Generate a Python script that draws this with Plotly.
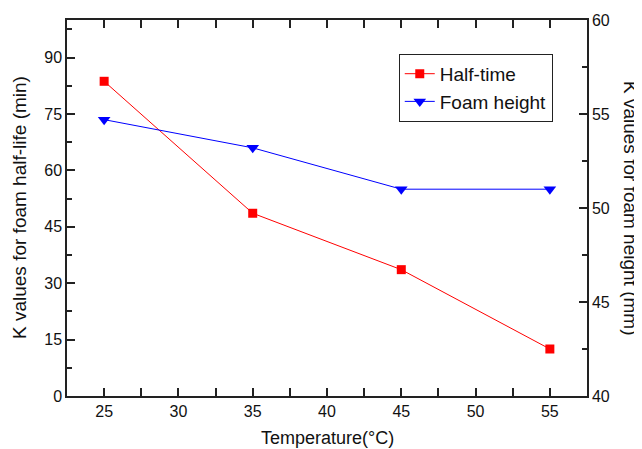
import plotly.graph_objects as go

temperature = [25, 35, 45, 55]
half_time = [83.7, 48.6, 33.6, 12.5]
foam_height = [54.7, 53.2, 51.0, 51.0]

x_title = "Temperature(°C)"
y_title = "K values for foam half-life (min)"
y2_title = "K values for foam height (mm)"

font = "Arial, Liberation Sans, sans-serif"

fig = go.Figure()
fig.add_trace(go.Scatter(
    x=temperature, y=half_time, name="Half-time", mode="lines+markers",
    line=dict(color="#ff0000", width=1),
    marker=dict(symbol="square", size=9, color="#ff0000"),
    yaxis="y"))
fig.add_trace(go.Scatter(
    x=temperature, y=foam_height, name="Foam height", mode="lines+markers",
    line=dict(color="#0000ff", width=1),
    marker=dict(symbol="triangle-down", size=11, color="#0000ff"),
    yaxis="y2"))

axis_common = dict(
    showgrid=False, zeroline=False, showline=True, linecolor="#222",
    linewidth=1.5, ticks="inside", ticklen=8, tickwidth=1.5, tickcolor="#222",
    tickfont=dict(family=font, size=16, color="#111"), automargin=False,
)

# page body has an 8px margin, so the figure is sized/offset to compensate
fig.update_layout(
    width=634, height=441,
    margin=dict(l=59, r=55, t=12, b=53),
    paper_bgcolor="white", plot_bgcolor="white",
    showlegend=True,
    legend=dict(x=0.638, y=0.91, xanchor="left", yanchor="top",
                bordercolor="#222", borderwidth=1, bgcolor="white",
                font=dict(family=font, size=19, color="#111"),
                tracegroupgap=0),
    xaxis=dict(range=[22.5, 57.5], tickvals=[25, 30, 35, 40, 45, 50, 55],
               mirror="allticks",
               minor=dict(ticks="inside", ticklen=5, tickwidth=1.5, dtick=2.5, tick0=22.5, tickcolor="#222"),
               **axis_common),
    yaxis=dict(range=[0, 100], tickvals=[0, 15, 30, 45, 60, 75, 90],
               minor=dict(ticks="inside", ticklen=5, tickwidth=1.5, dtick=7.5, tick0=0, tickcolor="#222"),
               **axis_common),
    yaxis2=dict(range=[40, 60], tickvals=[40, 45, 50, 55, 60], overlaying="y", side="right",
                minor=dict(ticks="inside", ticklen=5, tickwidth=1.5, dtick=2.5, tick0=40, tickcolor="#222"),
                **axis_common),
    annotations=[
        dict(text=x_title, xref="paper", yref="paper", x=0.5, y=0, yshift=-42,
             xanchor="center", yanchor="middle", showarrow=False,
             font=dict(family=font, size=18, color="#111")),
        dict(text=y_title, xref="paper", yref="paper", x=0, xshift=-48, y=0.5,
             xanchor="center", yanchor="middle", textangle=-90, showarrow=False,
             font=dict(family=font, size=19, color="#111")),
        dict(text=y2_title, xref="paper", yref="paper", x=1, xshift=44, y=0.5,
             xanchor="center", yanchor="middle", textangle=90, showarrow=False,
             font=dict(family=font, size=19, color="#111")),
    ],
)

fig.write_html("out.html")
